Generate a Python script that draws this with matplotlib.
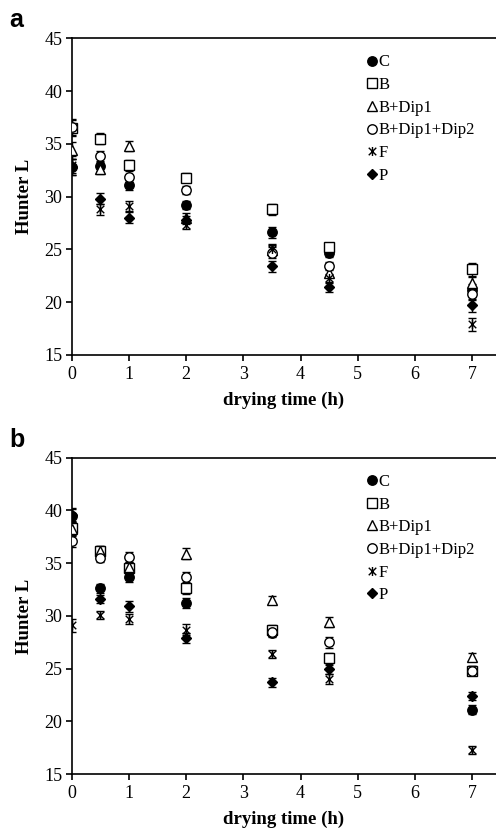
import numpy as np
import matplotlib
matplotlib.use("Agg")
import matplotlib.pyplot as plt
from matplotlib.path import Path

# drying times (h)
times = [0, 0.5, 1, 2, 3.5, 4.5, 7]
labels = ['C', 'B', 'B+Dip1', 'B+Dip1+Dip2', 'F', 'P']

# panel a - Hunter L
a_C = [32.8, 32.9, 31.1, 29.2, 26.6, 24.7, 21.1]
a_B = [36.5, 35.5, 33.0, 31.8, 28.8, 25.2, 23.1]
a_D1 = [34.4, 32.6, 34.8, 28.0, 24.9, 22.8, 21.8]
a_D2 = [36.6, 33.8, 31.9, 30.6, 24.7, 23.4, 20.8]
a_F = [33.0, 28.8, 29.1, 27.3, 25.0, 22.3, 17.9]
a_P = [32.8, 29.8, 28.0, 27.8, 23.4, 21.4, 19.7]
a_err = [0.8, 0.5, 0.5, 0.4, 0.5, 0.4, 0.6]

# panel b - Hunter L
b_C = [39.5, 32.6, 33.7, 31.2, 28.4, 25.8, 21.1]
b_B = [38.3, 36.2, 34.5, 32.6, 28.7, 26.0, 24.8]
b_D1 = [38.2, 36.2, 34.6, 35.9, 31.5, 29.4, 26.1]
b_D2 = [37.1, 35.5, 35.6, 33.7, 28.5, 27.5, 24.8]
b_F = [29.1, 30.1, 29.7, 28.7, 26.4, 24.0, 17.3]
b_P = [39.6, 31.6, 30.9, 27.9, 23.7, 25.0, 22.4]
b_err = [0.6, 0.4, 0.5, 0.5, 0.4, 0.5, 0.4]

# X with a vertical bar (excel star marker)
star = Path([(-1, -1), (1, 1), (-1, 1), (1, -1), (0, -1.2), (0, 1.2)],
            [Path.MOVETO, Path.LINETO, Path.MOVETO, Path.LINETO, Path.MOVETO, Path.LINETO])

styles = [('o', 'black'), ('s', 'white'), ('^', 'white'), ('o', 'white'), (star, 'none'), ('D', 'black')]
sizes = [6.8, 6.5, 6.8, 6.8, 6.5, 5.5]

plt.rcParams['font.family'] = 'Liberation Serif'

fig = plt.figure(figsize=(4.96, 8.33), dpi=100)
ax_a = fig.add_axes([0.145, 0.574, 0.855, 0.380])
ax_b = fig.add_axes([0.145, 0.0708, 0.855, 0.3797])

def draw(ax, series, err):
    for (m, fc), ms, lab, ys in zip(styles, sizes, labels, series):
        ax.errorbar(times, ys, yerr=err, fmt='none', ecolor='black', elinewidth=1,
                    capsize=3, capthick=1, zorder=2)
        ax.plot(times, ys, linestyle='none', marker=m, markersize=ms,
                markerfacecolor=fc, markeredgecolor='black', markeredgewidth=1,
                label=lab, zorder=3)
    ax.set_xlim(0, 7.42)
    ax.set_ylim(15, 45)
    ax.set_xticks(range(0, 8))
    ax.set_yticks(range(15, 46, 5))
    ax.spines['right'].set_visible(False)
    for s in ['left', 'bottom', 'top']:
        ax.spines[s].set_linewidth(1.2)
    ax.tick_params(direction='out', length=4, width=1.2, labelsize=13, colors='black')
    ax.tick_params(axis='x', pad=4)
    ax.tick_params(axis='y', pad=3)
    ax.set_xlabel('drying time (h)', fontsize=13.5, fontweight='bold', labelpad=6)
    ax.set_ylabel('Hunter L', fontsize=13.5, fontweight='bold', labelpad=8)
    ax.legend(loc='upper left', bbox_to_anchor=(0.68, 0.97), frameon=False,
              handlelength=0.6, handletextpad=0.1, labelspacing=0.4,
              fontsize=12, borderaxespad=0)

draw(ax_a, [a_C, a_B, a_D1, a_D2, a_F, a_P], a_err)
draw(ax_b, [b_C, b_B, b_D1, b_D2, b_F, b_P], b_err)

fig.text(0.018, 0.968, 'a', fontsize=18, fontweight='bold', family='Liberation Sans')
fig.text(0.018, 0.463, 'b', fontsize=18, fontweight='bold', family='Liberation Sans')

fig.savefig('out.png', dpi=100)
